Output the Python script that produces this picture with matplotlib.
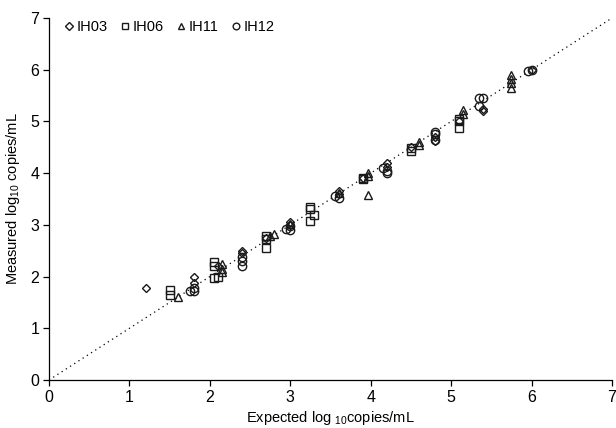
import matplotlib
matplotlib.use("Agg")
import matplotlib.pyplot as plt

plt.rcParams["font.family"] = "Liberation Sans"
plt.rcParams["mathtext.fontset"] = "custom"
plt.rcParams["mathtext.rm"] = "Liberation Sans"
plt.rcParams["mathtext.it"] = "Liberation Sans"
plt.rcParams["mathtext.default"] = "regular"

# ---- data (expected, measured) ----
ih03_x = [1.2, 1.8, 1.8, 2.1, 2.4, 2.4, 2.7, 3.0, 3.0, 3.6, 3.6, 3.9, 4.2, 4.2, 4.5, 4.8, 4.8, 5.1, 5.4, 5.4, 6.0]
ih03_y = [1.78, 2.0, 1.88, 2.2, 2.5, 2.45, 2.75, 3.05, 3.0, 3.65, 3.6, 3.9, 4.2, 4.12, 4.5, 4.62, 4.7, 5.0, 5.2, 5.25, 6.0]

ih06_x = [1.5, 1.5, 2.05, 2.05, 2.1, 2.05, 2.7, 2.7, 2.7, 3.25, 3.25, 3.3, 3.25, 3.9, 3.9, 4.5, 4.5, 5.1, 5.1, 5.1]
ih06_y = [1.75, 1.65, 2.28, 2.2, 2.0, 1.98, 2.78, 2.72, 2.55, 3.35, 3.3, 3.2, 3.08, 3.9, 3.88, 4.48, 4.42, 5.05, 5.0, 4.88]

ih11_x = [1.6, 2.15, 2.15, 2.15, 2.8, 2.75, 3.0, 3.6, 3.97, 3.97, 3.97, 4.6, 4.6, 5.15, 5.15, 5.75, 5.75, 5.75, 5.75]
ih11_y = [1.6, 2.25, 2.15, 2.08, 2.82, 2.78, 3.02, 3.62, 4.0, 3.95, 3.58, 4.6, 4.55, 5.22, 5.15, 5.9, 5.82, 5.75, 5.65]

ih12_x = [1.75, 1.8, 1.8, 2.4, 2.4, 2.4, 2.95, 3.0, 3.0, 3.55, 3.6, 4.15, 4.2, 4.2, 4.8, 4.8, 4.8, 5.35, 5.4, 5.35, 5.95, 6.0]
ih12_y = [1.72, 1.72, 1.78, 2.2, 2.3, 2.38, 2.92, 2.9, 2.98, 3.55, 3.52, 4.1, 4.0, 4.05, 4.65, 4.75, 4.8, 5.45, 5.45, 5.3, 5.97, 6.0]

series = [
    ("IH03", ih03_x, ih03_y, "D", 4.5),
    ("IH06", ih06_x, ih06_y, "s", 5.5),
    ("IH11", ih11_x, ih11_y, "^", 6),
    ("IH12", ih12_x, ih12_y, "o", 6),
]

fig = plt.figure(figsize=(6.16, 4.28), dpi=100)
ax = fig.add_axes([49 / 616, 1 - 380 / 428, 563 / 616, 362 / 428])

ax.plot([0, 7], [0, 7], linestyle=(0, (1, 3)), color="black", linewidth=0.9, zorder=1)

for name, xs, ys, mk, ms in series:
    ax.plot(xs, ys, linestyle="none", marker=mk, markersize=ms,
            markerfacecolor="none", markeredgecolor="#1a1a1a",
            markeredgewidth=1.0, label=name, zorder=2)

ax.set_xlim(0, 7)
ax.set_ylim(0, 7)
ax.set_xticks(range(8))
ax.set_yticks(range(8))
ax.tick_params(direction="out", length=4, width=0.9, labelsize=11.5, pad=3)
for s in ["top", "right"]:
    ax.spines[s].set_visible(False)
for s in ["left", "bottom"]:
    ax.spines[s].set_linewidth(0.9)

ax.set_xlabel("Expected log $_{10}$copies/mL", fontsize=10.5, labelpad=3)
ax.set_ylabel("Measured log$_{10}$ copies/mL", fontsize=10.5, labelpad=6)

leg = ax.legend(loc="upper left", ncol=4, frameon=False, fontsize=10.5,
                handletextpad=0.0, columnspacing=0.7, handlelength=1.0,
                markerscale=0.8, bbox_to_anchor=(0.0, 1.03))

fig.savefig("out.png", dpi=100)
